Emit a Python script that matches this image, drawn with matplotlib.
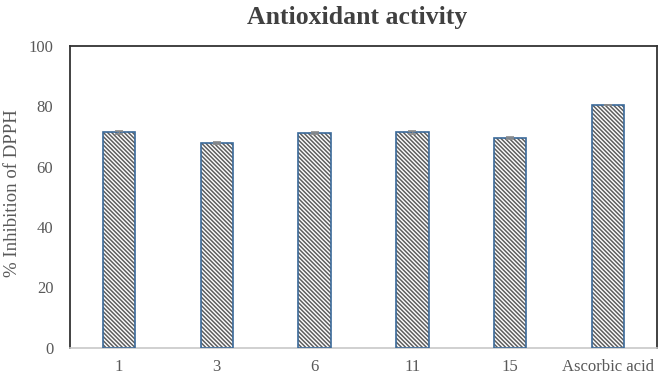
import matplotlib
matplotlib.use("Agg")
import matplotlib.pyplot as plt
import numpy as np

categories = ["1", "3", "6", "11", "15", "Ascorbic acid"]
values = [71.3, 67.7, 71.0, 71.3, 69.5, 80.3]
errors = [0.4, 0.4, 0.4, 0.4, 0.4, 0.0]
yticks = [0, 20, 40, 60, 80, 100]

plt.rcParams['font.family'] = ['Liberation Serif', 'DejaVu Serif']
plt.rcParams['hatch.linewidth'] = 1.1

fig = plt.figure(figsize=(6.62, 3.78), dpi=100)
ax = fig.add_axes([0.1057, 0.0794, 0.8867, 0.8002])

x = np.arange(len(categories))
ax.bar(x, values, width=0.33, color='white', edgecolor='#5E5E5E',
       hatch='\\' * 8, linewidth=0, zorder=2)
ax.bar(x, values, width=0.33, fill=False, edgecolor='#3B6A9A',
       linewidth=1.2, zorder=3)
ax.errorbar(x, values, yerr=errors, fmt='none', ecolor='#8A8A8A',
            elinewidth=0.8, capsize=3, capthick=1.2, zorder=4)

ax.set_xlim(-0.5, len(categories) - 0.5)
ax.set_ylim(0, 100)
ax.set_yticks(yticks)
ax.set_xticks(x)
ax.set_xticklabels(categories)

for s in ['left', 'top', 'right']:
    ax.spines[s].set_color('#333333')
    ax.spines[s].set_linewidth(1.3)
ax.spines['bottom'].set_color('#C8C8C8')
ax.spines['bottom'].set_linewidth(1.2)
ax.tick_params(axis='both', length=0, labelsize=12, colors='#595959')
ax.tick_params(axis='y', pad=12)
ax.tick_params(axis='x', pad=8)

fig.text(0.019, 0.49, '% Inhibition of DPPH', rotation=90, ha='center',
         va='center', fontsize=13.5, color='#595959')
fig.text(0.54, 0.953, 'Antioxidant activity', ha='center', va='center',
         fontsize=18.5, fontweight='bold', color='#404040')

fig.savefig('out.png', dpi=100)
